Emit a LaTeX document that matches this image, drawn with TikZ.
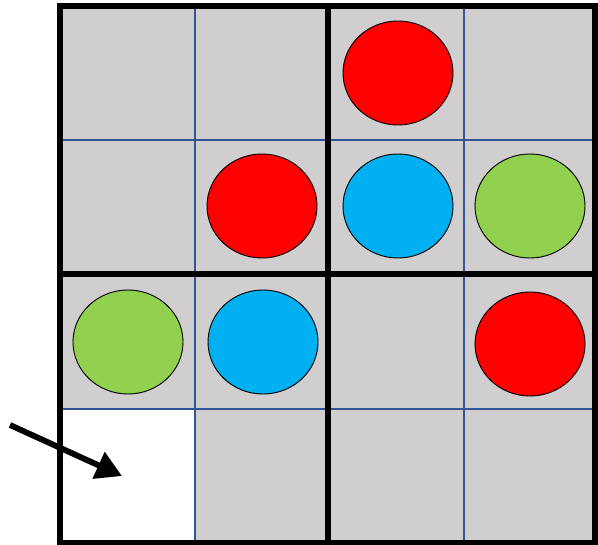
\documentclass[tikz,border=0pt]{standalone}
\usetikzlibrary{arrows.meta,shapes.geometric}

\tikzset{
  cellfill/.style={fill={rgb,255:red,208;green,206;blue,207}},
  thinline/.style={draw={rgb,255:red,47;green,85;blue,151},line width=1.1pt},
  thickline/.style={draw=black,line width=4.6pt},
  piece/.style={draw=black,line width=0.8pt,ellipse,minimum width=110*0.03cm,minimum height=104*0.03cm,inner sep=0pt},
}
\definecolor{pred}{RGB}{255,0,0}
\definecolor{pblue}{RGB}{0,176,240}
\definecolor{pgreen}{RGB}{146,208,80}

\begin{document}
\begin{tikzpicture}[x=0.03cm,y=-0.03cm]
  \useasboundingbox (0,0) rectangle (598,545);
  % board
  \fill[cellfill] (60,6) rectangle (595,543);
  \fill[white] (60,409) rectangle (195,543);
  \foreach \p in {195,464} {
    \draw[thinline] (\p,6) -- (\p,543);
  }
  \foreach \p in {140,409} {
    \draw[thinline] (60,\p) -- (595,\p);
  }
  \draw[thickline] (328,6) -- (328,543);
  \draw[thickline] (60,274) -- (595,274);
  \draw[thickline] (60,6) rectangle (595,543);
  % pieces
  \node[piece,fill=pred] (r1) at (398,73) {};
  \node[piece,fill=pred] (r2) at (262,206) {};
  \node[piece,fill=pblue] (b1) at (398,206) {};
  \node[piece,fill=pgreen] (g1) at (530,206) {};
  \node[piece,fill=pgreen] (g2) at (128,342) {};
  \node[piece,fill=pblue] (b2) at (263,342) {};
  \node[piece,fill=pred] (r3) at (530,344) {};
  % arrow
  \coordinate (from) at (10,425);
  \coordinate (to) at (122,476);
  \draw[line width=5pt,-{Triangle[length=22pt,width=24pt]}] (from) -- (to);
\end{tikzpicture}
\end{document}
